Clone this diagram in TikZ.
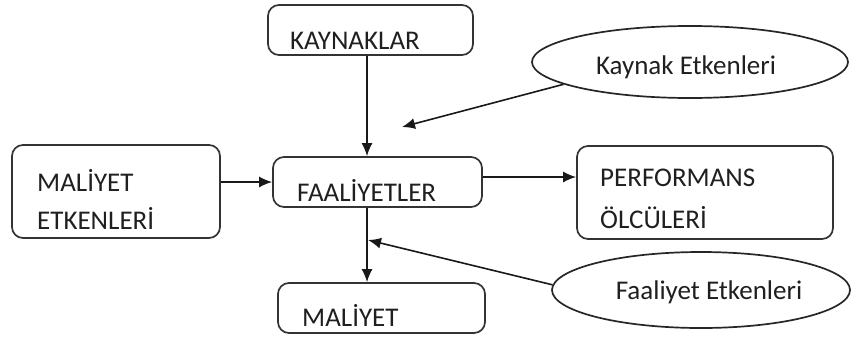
\documentclass[tikz,border=0pt]{standalone}
\usepackage{fontspec}
\setmainfont{Carlito}
\usetikzlibrary{arrows.meta,shapes.geometric}
\begin{document}
\begin{tikzpicture}[x=1pt,y=-1pt,
  font=\fontsize{27}{32}\selectfont,
  box/.style={draw=black!80,line width=1.7pt,rounded corners=11pt,inner sep=0pt},
  oval/.style={draw=black!85,ellipse,line width=1.7pt,inner sep=0pt},
  lbl/.style={text=black!88,inner sep=0pt,anchor=west},
  conn/.style={draw=black!90,line width=1.6pt,-{Latex[length=13pt,width=11pt]}}]
\useasboundingbox (0,0) rectangle (856,338);
% boxes
\node[box,minimum width=205pt,minimum height=50pt] (kay) at (370.5,30) {};
\node[box,minimum width=208pt,minimum height=93pt] (met) at (116,191.5) {};
\node[box,minimum width=209pt,minimum height=50pt] (faa) at (377.5,182) {};
\node[box,minimum width=256pt,minimum height=93pt] (per) at (705,192.5) {};
\node[box,minimum width=207pt,minimum height=50pt] (mal) at (381.5,308) {};
% ellipses
\node[oval,minimum width=316pt,minimum height=72pt] (ke) at (690,62) {};
\node[oval,minimum width=298pt,minimum height=76pt] (fe) at (701,290) {};
% labels
\node[lbl] (tkay) at (290,41) {KAYNAKLAR};
\node[lbl] (tmet1) at (37,180) {MALİYET};
\node[lbl] (tmet2) at (37,218) {ETKENLERİ};
\node[lbl] (tfaa) at (297,190) {FAALİYETLER};
\node[lbl] (tper1) at (600,178) {PERFORMANS};
\node[lbl] (tper2) at (600,218) {ÖLCÜLERİ};
\node[lbl] (tmal) at (302,315) {MALİYET};
\node[text=black!88,inner sep=0pt] (tke) at (686,67) {Kaynak Etkenleri};
\node[text=black!88,inner sep=0pt] (tfe) at (709,292) {Faaliyet Etkenleri};
% connectors
\coordinate (axis) at (367,0);
\coordinate (kt) at (402,127);
\coordinate (ft) at (368,240);
\draw[conn] (kay.south -| axis) -- (faa.north -| axis);
\draw[conn] (ke.190) -- (kt);
\draw[conn] (met.east |- faa.west) -- (faa.west);
\draw[conn] ([yshift=5pt]faa.east) -- ([yshift=5pt]faa.east -| per.west);
\draw[conn] (faa.south -| axis) -- (mal.north -| axis);
\draw[conn] (fe.178) -- (ft);
\end{tikzpicture}
\end{document}
